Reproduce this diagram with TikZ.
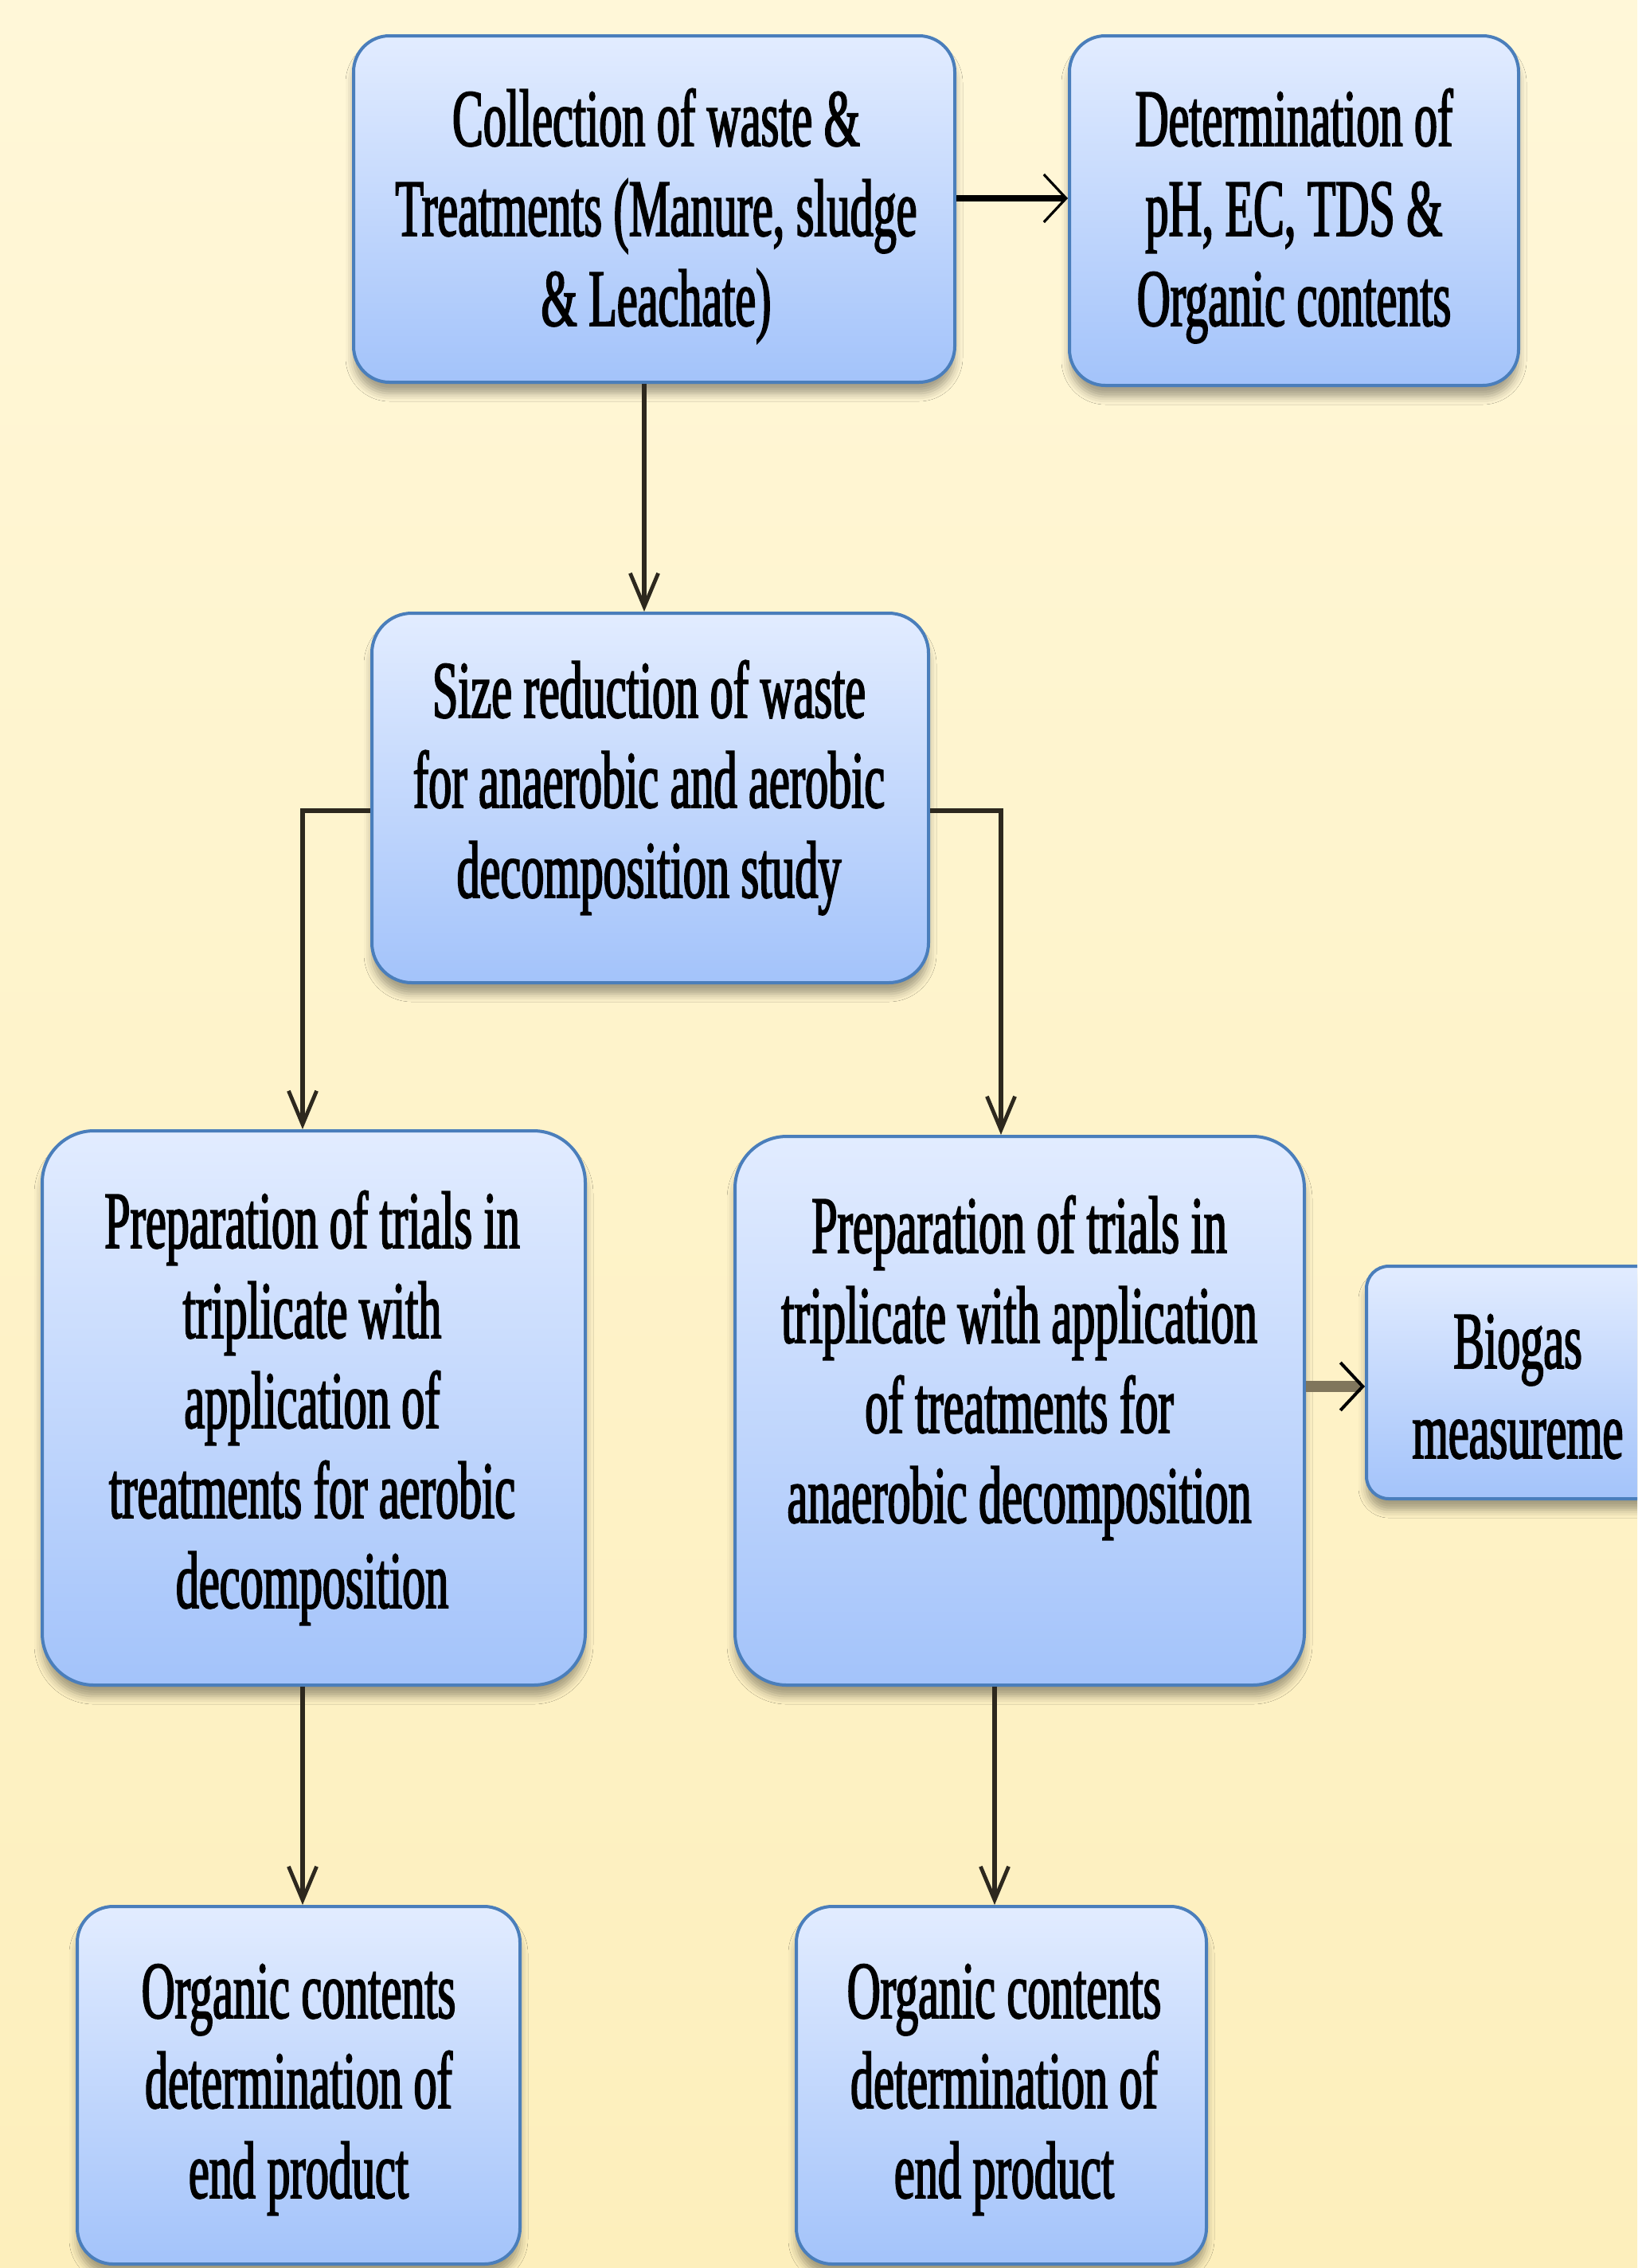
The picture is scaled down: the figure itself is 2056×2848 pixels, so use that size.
\documentclass[tikz,border=0pt]{standalone}
\usepackage{fontspec}
\usetikzlibrary{arrows.meta,fit,shadows.blur}
\newfontfamily\cfont[FakeStretch=0.57,FakeBold=1.8]{Liberation Serif}
\definecolor{bgtop}{RGB}{255,247,216}
\definecolor{bgbot}{RGB}{253,239,188}
\definecolor{boxtop}{RGB}{226,236,255}
\definecolor{boxbot}{RGB}{163,195,250}
\definecolor{boxline}{RGB}{74,126,187}
\definecolor{connc}{RGB}{45,40,30}
\definecolor{thickc}{RGB}{128,118,92}
\begin{document}
\begin{tikzpicture}[x=0.25pt,y=-0.25pt,
  box/.style={draw=boxline, line width=1pt, top color=boxtop, bottom color=boxbot,
    inner sep=0pt, blur shadow={shadow xshift=0pt, shadow yshift=-3.5pt,
    shadow opacity=35, shadow blur radius=2.5pt}},
  txt/.style={anchor=base, inner sep=0pt, font=\cfont\fontsize{25.5}{28.25}\selectfont},
  conn/.style={draw=connc, line width=1.3pt,
    -{Straight Barb[length=10.5pt,width=8.8pt,line width=1.2pt]}},
  topconn/.style={draw=black, line width=2pt,
    -{Straight Barb[length=7pt,width=15pt,line width=0.8pt]}},
  bigconn/.style={draw=thickc, line width=3.5pt,
    -{Straight Barb[length=7pt,width=15pt,line width=1pt,color=black]}}
]
\useasboundingbox (0,0) rectangle (2056,2848);
\clip (0,0) rectangle (2056,2848);
\shade[top color=bgtop, bottom color=bgbot] (0,0) rectangle (2056,2848);

% boxes
\node[box, rounded corners=11.25pt, fit={(444,45) (1199,480)}] (b1) {};
\node[box, rounded corners=11.25pt, fit={(1343,45) (1907,484)}] (b2) {};
\node[box, rounded corners=12.5pt, fit={(467,770) (1166,1234)}] (b3) {};
\node[box, rounded corners=16.25pt, fit={(53,1420) (735,2116)}] (b4) {};
\node[box, rounded corners=16.25pt, fit={(923,1427) (1638,2116)}] (b5) {};
\node[box, rounded corners=7pt, fit={(1716,1590) (2100,1882)}] (b6) {};
\node[box, rounded corners=11.25pt, fit={(97,2394) (653,2843)}] (b7) {};
\node[box, rounded corners=11.25pt, fit={(1000,2394) (1515,2843)}] (b8) {};

% texts
\node[txt] (t1) at (824,183) {\begin{tabular}[t]{@{}c@{}}Collection of waste \&\\Treatments (Manure, sludge\\\& Leachate)\end{tabular}};
\node[txt] (t2) at (1625,183) {\begin{tabular}[t]{@{}c@{}}Determination of\\pH, EC, TDS \&\\Organic contents\end{tabular}};
\node[txt] (t3) at (815,901) {\begin{tabular}[t]{@{}c@{}}Size reduction of waste\\for anaerobic and aerobic\\decomposition study\end{tabular}};
\node[txt] (t4) at (392,1567) {\begin{tabular}[t]{@{}c@{}}Preparation of trials in\\triplicate with\\application of\\treatments for aerobic\\decomposition\end{tabular}};
\node[txt] (t5) at (1280,1573) {\begin{tabular}[t]{@{}c@{}}Preparation of trials in\\triplicate with application\\of treatments for\\anaerobic decomposition\end{tabular}};
\node[txt] (t6) at (1906,1718) {\begin{tabular}[t]{@{}c@{}}Biogas\\measureme\end{tabular}};
\node[txt] (t7) at (375,2534) {\begin{tabular}[t]{@{}c@{}}Organic contents\\determination of\\end product\end{tabular}};
\node[txt] (t8) at (1261,2534) {\begin{tabular}[t]{@{}c@{}}Organic contents\\determination of\\end product\end{tabular}};

% connector guide coordinates
\coordinate (ya) at (0,249);
\coordinate (xa) at (809,0);
\coordinate (yb) at (0,1018);
\coordinate (xl) at (380,0);
\coordinate (xr) at (1257,0);
\coordinate (xr2) at (1249,0);
\coordinate (yc) at (0,1741);

% connectors
\draw[topconn] (b1.east |- ya) -- (b2.west |- ya);
\draw[conn] (b1.south -| xa) -- (b3.north -| xa);
\draw[conn] (b3.west |- yb) -| (b4.north -| xl);
\draw[conn] (b3.east |- yb) -| (b5.north -| xr);
\draw[conn] (b4.south -| xl) -- (b7.north -| xl);
\draw[conn] (b5.south -| xr2) -- (b8.north -| xr2);
\draw[bigconn] (b5.east |- yc) -- (b6.west |- yc);
\end{tikzpicture}
\end{document}
